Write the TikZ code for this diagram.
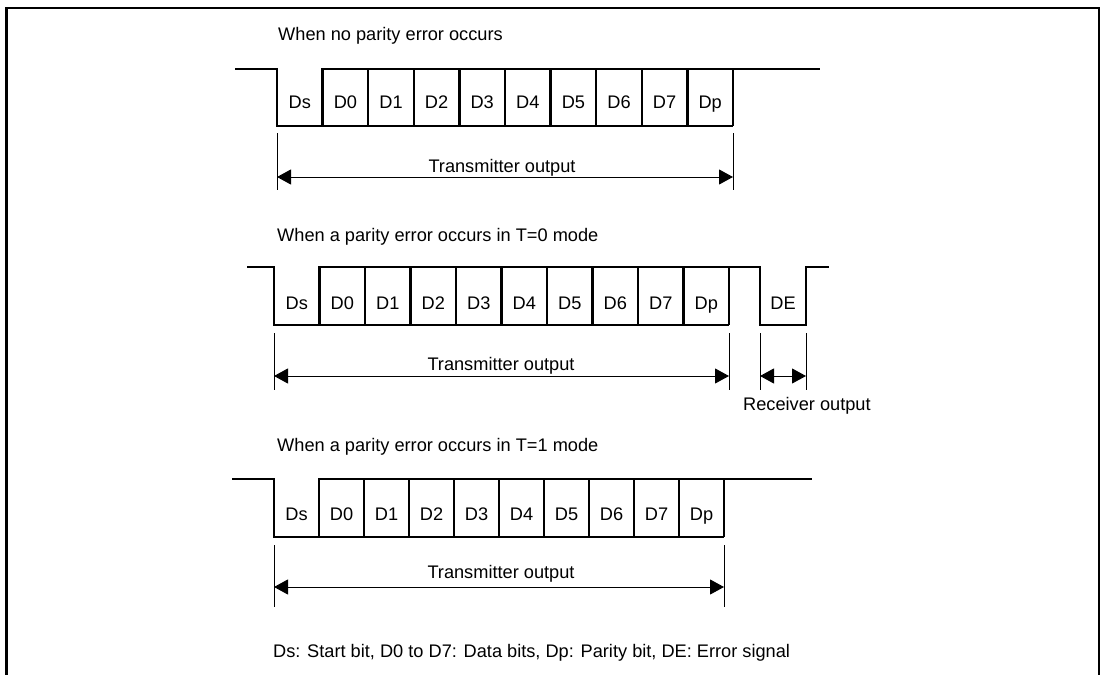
\documentclass[tikz,border=0pt]{standalone}
\usepackage{fontspec}
\setmainfont{Liberation Sans}
\usetikzlibrary{arrows.meta}
\begin{document}
\begin{tikzpicture}[x=1pt,y=-1pt,
  wave/.style={line width=2.4pt, line join=miter},
  tick/.style={line width=1pt},
  dimarrow/.style={line width=1pt, {Triangle[length=14pt,width=15pt]}-{Triangle[length=14pt,width=15pt]}},
  lbl/.style={font=\fontsize{18.2}{21}\selectfont, inner sep=0pt},
  cell/.style={lbl, anchor=base},
  frame/.style={line width=2.6pt}]
\useasboundingbox (0,0) rectangle (1104,675);
\draw[frame] (6.5,676) -- (6.5,8) -- (1099,8) -- (1099,676);

% ---------- Row 1: no parity error ----------
\node[lbl, anchor=base west] (title1) at (278,40.5) {When no parity error occurs};
\draw[wave] (235,69) -- (277,69) -- (277,126) -- (733,126);
\draw[wave] ({277+45.6},126) -- ({277+45.6},69) -- (820,69);
\foreach \k in {2,...,10} \draw[wave] ({277+45.6*\k},126) -- ({277+45.6*\k},69);
\foreach \n [count=\k from 0] in {Ds,D0,D1,D2,D3,D4,D5,D6,D7,Dp}
  \node[cell] (ra\k) at ({277+45.6*(\k+0.5)},108) {\n};
\coordinate (t1l) at (277,133); \coordinate (b1l) at (277,190);
\coordinate (t1r) at (733,133); \coordinate (b1r) at (733,190);
\draw[tick] (t1l) -- (b1l);
\draw[tick] (t1r) -- (b1r);
\coordinate (a1l) at (277,177); \coordinate (a1r) at (733,177);
\draw[dimarrow] (a1l) -- (a1r);
\node[lbl, anchor=base] (tx1) at (502,172.5) {Transmitter output};

% ---------- Row 2: parity error, T=0 ----------
\node[lbl, anchor=base west] (title2) at (277,241) {When a parity error occurs in T=0 mode};
\draw[wave] (247,267) -- (274,267) -- (274,325) -- (729,325);
\draw[wave] ({274+45.5},325) -- ({274+45.5},267) -- (760,267) -- (760,325) -- (806,325) -- (806,267) -- (829,267);
\foreach \k in {2,...,10} \draw[wave] ({274+45.5*\k},325) -- ({274+45.5*\k},267);
\foreach \n [count=\k from 0] in {Ds,D0,D1,D2,D3,D4,D5,D6,D7,Dp}
  \node[cell] (rb\k) at ({274+45.5*(\k+0.5)},309) {\n};
\node[cell] (de) at (783,309) {DE};
\coordinate (t2l) at (274,333); \coordinate (b2l) at (274,390);
\coordinate (t2r) at (729,333); \coordinate (b2r) at (729,390);
\coordinate (t2e) at (760,333); \coordinate (b2e) at (760,390);
\coordinate (t2f) at (806,333); \coordinate (b2f) at (806,390);
\draw[tick] (t2l) -- (b2l);
\draw[tick] (t2r) -- (b2r);
\draw[tick] (t2e) -- (b2e);
\draw[tick] (t2f) -- (b2f);
\coordinate (a2l) at (274,376); \coordinate (a2r) at (729,376);
\coordinate (a2e) at (760,376); \coordinate (a2f) at (806,376);
\draw[dimarrow] (a2l) -- (a2r);
\draw[dimarrow] (a2e) -- (a2f);
\node[lbl, anchor=base] (tx2) at (501,370) {Transmitter output};
\node[lbl, anchor=base west] (rx2) at (743,410) {Receiver output};

% ---------- Row 3: parity error, T=1 ----------
\node[lbl, anchor=base west] (title3) at (277,451) {When a parity error occurs in T=1 mode};
\draw[wave] (232,479) -- (274,479) -- (274,537) -- (724,537);
\draw[wave] ({274+45},537) -- ({274+45},479) -- (812,479);
\foreach \k in {2,...,10} \draw[wave] ({274+45*\k},537) -- ({274+45*\k},479);
\foreach \n [count=\k from 0] in {Ds,D0,D1,D2,D3,D4,D5,D6,D7,Dp}
  \node[cell] (rc\k) at ({274+45*(\k+0.5)},520) {\n};
\coordinate (t3l) at (274,545); \coordinate (b3l) at (274,607);
\coordinate (t3r) at (724,545); \coordinate (b3r) at (724,607);
\draw[tick] (t3l) -- (b3l);
\draw[tick] (t3r) -- (b3r);
\coordinate (a3l) at (274,587); \coordinate (a3r) at (724,587);
\draw[dimarrow] (a3l) -- (a3r);
\node[lbl, anchor=base] (tx3) at (501,578) {Transmitter output};

% ---------- Legend ----------
\node[lbl, anchor=base west] (legend) at (273,657) {Ds: Start bit, D0 to D7: Data bits, Dp: Parity bit, DE: Error signal};
\end{tikzpicture}
\end{document}
